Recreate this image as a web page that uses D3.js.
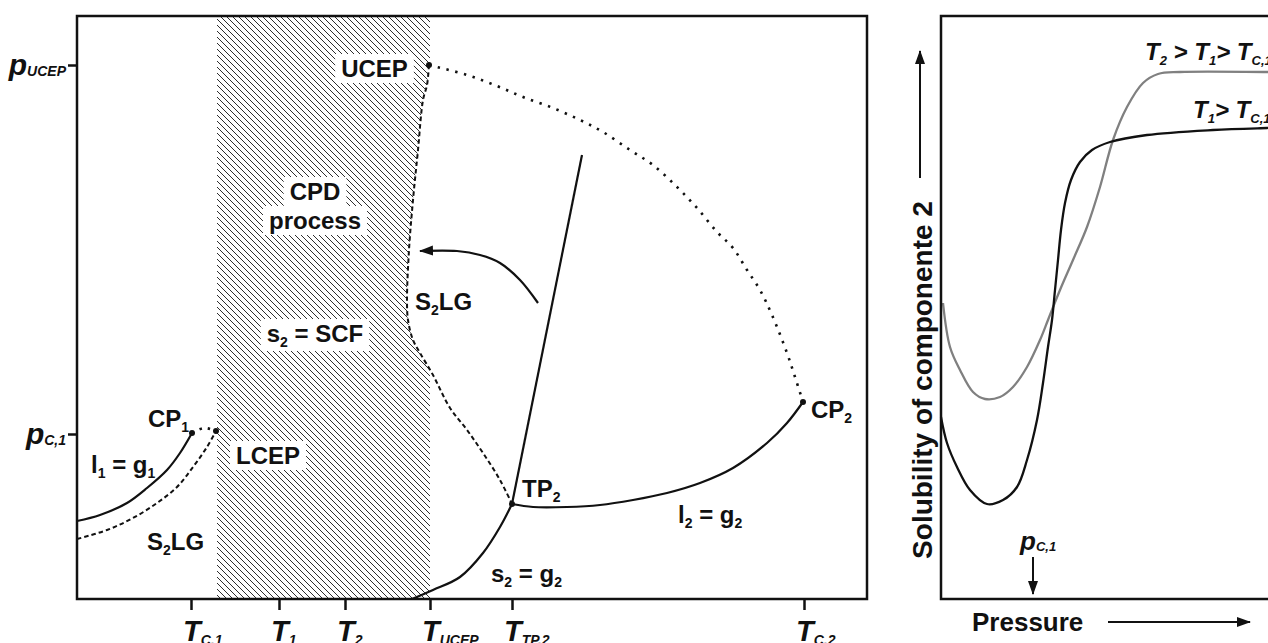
<!DOCTYPE html>
<html>
<head>
<meta charset="utf-8">
<script src="https://cdn.jsdelivr.net/npm/d3@7"></script>
<style>
  body { margin: 0; background: #fff; }
  text { font-family: "Liberation Sans", Arial, sans-serif; font-weight: bold; fill: #111; white-space: pre; }
</style>
</head>
<body>
<svg id="chart" width="1268" height="643"></svg>
<script>
// ---------- p–T projection (left panel) ----------
// temperature ticks (arbitrary temperature units)
const tTickMain = ["T", "T", "T", "T", "T", "T"];
const tTickSub = ["C,1", "1", "2", "UCEP", "TP,2", "C,2"];
const tTickValues = [11.4, 20.2, 26.8, 35.3, 43.5, 72.7];
// pressure ticks
const pTickMain = ["p", "p"];
const pTickSub = ["UCEP", "C,1"];
const pTickValues = [53.4, 16.5];

// hatched CPD band
const cpdBand = [14.0, 35.3];

// vapour pressure curve of component 1 (l1 = g1)
const vap1 = [[0, 7.8], [2.3, 8.4], [5.0, 9.6], [7.0, 11.1], [9.0, 12.9], [10.3, 14.6], [11.5, 16.6]];
// lower three-phase line S2LG
const s2lgLow = [[0, 6.0], [3.0, 6.9], [5.6, 8.1], [8.0, 9.6], [10.0, 11.2], [11.6, 13.2], [13.0, 15.2], [13.9, 16.8]];
// critical curve CP1 -> LCEP
const critLow = [[11.5, 16.6], [12.7, 17.1], [13.9, 16.8]];
// upper three-phase line S2LG, UCEP -> TP2
const s2lgHigh = [[35.2, 53.4], [35.0, 51.4], [34.6, 49.9], [34.1, 44.9], [33.6, 39.9], [33.2, 34.9], [33.0, 29.9],
  [33.1, 27.9], [33.6, 25.9], [34.3, 24.6], [35.6, 22.4], [37.3, 19.1], [39.0, 16.9], [40.6, 14.6], [42.3, 11.9], [43.5, 9.5]];
// critical curve UCEP -> CP2
const critHigh = [[35.2, 53.4], [39.0, 52.4], [42.0, 51.3], [44.6, 50.2], [47.6, 49.1], [50.3, 47.9], [52.6, 46.7],
  [55.3, 44.9], [57.6, 43.4], [60.0, 41.2], [62.0, 39.1], [64.0, 36.7], [65.6, 35.1], [67.0, 32.9], [68.3, 30.9],
  [69.5, 28.4], [71.0, 24.6], [71.8, 22.2], [72.6, 19.7]];
// melting line of component 2
const melt2 = [[43.5, 9.5], [50.5, 44.4]];
// sublimation curve of component 2 (s2 = g2)
const subl2 = [[33.5, 0], [35.6, 0.9], [38.3, 2.2], [40.6, 4.6], [42.3, 7.2], [43.5, 9.5]];
// vapour pressure curve of component 2 (l2 = g2)
const vap2 = [[43.5, 9.5], [45.6, 9.2], [49.0, 9.2], [52.3, 9.4], [55.6, 9.9], [59.0, 10.6], [62.3, 11.6],
  [65.6, 13.1], [69.0, 15.6], [71.0, 17.6], [72.6, 19.7]];
// process arrow
const procArrow = [[46.1, 29.6], [44.3, 31.9], [42.3, 33.6], [40.3, 34.4], [38.0, 34.8], [34.3, 34.8]];
// special points
const pointNames = ["CP1", "LCEP", "UCEP", "TP2", "CP2"];
const pointValues = [[11.5, 16.6], [13.9, 16.8], [35.2, 53.4], [43.5, 9.5], [72.6, 19.7]];

// region labels: [main, sub, rest, T, p, anchor, boxed]
const regionLabels = [
  ["UCEP", "", "", 29.75, 52.2, "middle", true],
  ["CPD", "", "", 23.8, 39.9, "middle", true],
  ["process", "", "", 23.8, 37.0, "middle", true],
  ["s", "2", " = SCF", 23.8, 25.7, "middle", true],
  ["LCEP", "", "", 19.1, 13.5, "middle", true],
  ["S", "2", "LG", 33.8, 28.9, "start", false],
  ["CP", "1", "", 7.1, 17.2, "start", false],
  ["l", "1", " = g", 1.4, 12.6, "start", false],
  ["S", "2", "LG", 7.0, 4.9, "start", false],
  ["TP", "2", "", 44.5, 10.2, "start", false],
  ["l", "2", " = g", 60.1, 7.6, "start", false],
  ["s", "2", " = g", 41.4, 1.7, "start", false],
  ["CP", "2", "", 73.4, 18.1, "start", false]
];
const regionTailSub = ["", "", "", "", "", "", "", "1", "", "", "2", "2", ""];

// ---------- solubility vs pressure (right panel) ----------
const solT1 = [[0, 18.2], [0.6, 15.6], [1.6, 13.2], [2.9, 10.9], [4.6, 9.5], [6.2, 9.9], [7.6, 11.2], [8.6, 13.9],
  [9.6, 17.9], [10.2, 21.6], [10.7, 25.2], [11.1, 27.9], [11.4, 30.9], [11.7, 33.9], [12.0, 36.9], [12.4, 39.6],
  [13.0, 41.9], [13.9, 43.7], [15.1, 44.9], [16.9, 45.7], [20.6, 46.4], [27.2, 46.9], [32.6, 47.1], [34.4, 47.15]];
const solT2 = [[0.2, 29.6], [0.9, 25.2], [1.9, 22.9], [3.2, 20.7], [4.4, 20.0], [5.9, 20.2], [7.2, 21.2], [8.6, 23.2],
  [9.9, 25.9], [10.7, 27.9], [11.9, 30.9], [13.2, 33.9], [14.6, 37.2], [15.9, 41.2], [17.2, 45.9], [18.6, 49.2],
  [20.2, 51.6], [21.7, 52.5], [23.9, 52.7], [32.6, 52.7], [34.4, 52.7]];
const pc1Pressure = 9.2;

// ---------- drawing ----------
const svg = d3.select("#chart");
const defs = svg.append("defs");

defs.append("pattern").attr("id", "hatch").attr("patternUnits", "userSpaceOnUse")
  .attr("width", 6).attr("height", 6)
  .append("path").attr("d", "M-1,-1L7,7M-1,5L1,7M5,-1L7,1")
  .attr("stroke", "#2e2e2e").attr("stroke-width", 1.1).attr("shape-rendering", "crispEdges");

defs.append("marker").attr("id", "head").attr("markerUnits", "userSpaceOnUse")
  .attr("markerWidth", 16).attr("markerHeight", 12).attr("refX", 13).attr("refY", 5)
  .attr("orient", "auto")
  .append("path").attr("d", "M0,0L14,5L0,10Z").attr("fill", "#111");

const xT = d3.scaleLinear().domain([0, 79]).range([77, 867]);
const yP = d3.scaleLinear().domain([0, 58.3]).range([599, 16]);
const line = d3.line().x(d => xT(d[0])).y(d => yP(d[1])).curve(d3.curveCatmullRom.alpha(0.5));

const left = svg.append("g");

// hatched band, bounded on the right by the upper S2LG line
const [tb0, tb1] = cpdBand;
const pTop = yP.domain()[1];
const clipD = "M" + xT(tb0) + "," + yP(pTop) + "L" + xT(tb1) + "," + yP(pTop) + "L" + xT(tb1) + "," + yP(s2lgHigh[0][1]) +
  "L" + line(s2lgHigh).slice(1) +
  "L" + xT(s2lgHigh[s2lgHigh.length - 1][0]) + "," + yP(0) + "L" + xT(tb0) + "," + yP(0) + "Z";
defs.append("clipPath").attr("id", "bandClip").append("path").attr("d", clipD);
left.append("rect")
  .attr("x", xT(tb0)).attr("y", yP(pTop)).attr("width", xT(tb1) - xT(tb0)).attr("height", yP(0) - yP(pTop))
  .attr("fill", "url(#hatch)").attr("clip-path", "url(#bandClip)");

// curves
const solid = { stroke: "#111", "stroke-width": 2.2, fill: "none" };
function drawCurve(g, data, gen, style, dash, cap) {
  const p = g.append("path").attr("d", gen(data));
  Object.entries(style).forEach(([k, v]) => p.attr(k, v));
  if (dash) p.attr("stroke-dasharray", dash);
  if (cap) p.attr("stroke-linecap", cap);
  return p;
}
drawCurve(left, vap1, line, solid);
drawCurve(left, s2lgLow, line, { ...solid, "stroke-width": 2 }, "4.5,3");
drawCurve(left, critLow, line, { ...solid, "stroke-width": 2.6 }, "2.4,6");
drawCurve(left, s2lgHigh, line, { ...solid, "stroke-width": 2 }, "4.5,3");
drawCurve(left, critHigh, line, { ...solid, "stroke-width": 2.6 }, "2.4,6.6");
drawCurve(left, melt2, line, solid);
drawCurve(left, subl2, line, solid);
drawCurve(left, vap2, line, solid);
drawCurve(left, procArrow, line, solid).attr("marker-end", "url(#head)");

left.selectAll("circle.pt").data(pointValues).join("circle")
  .attr("class", "pt").attr("cx", d => xT(d[0])).attr("cy", d => yP(d[1])).attr("r", 3).attr("fill", "#111");

// region labels (white boxes behind labels sitting on the hatching)
const labelG = left.append("g");
regionLabels.forEach((L, i) => {
  const [main, sub, rest, t, p, anchor, boxed] = L;
  const g = labelG.append("g");
  const tx = g.append("text").attr("x", xT(t)).attr("y", yP(p)).attr("text-anchor", anchor).attr("font-size", 24);
  tx.append("tspan").text(main);
  if (sub) tx.append("tspan").attr("font-size", 14).attr("dy", 5).text(sub);
  if (rest) tx.append("tspan").attr("dy", sub ? -5 : 0).text(rest);
  if (regionTailSub[i]) tx.append("tspan").attr("font-size", 14).attr("dy", 5).text(regionTailSub[i]);
  if (boxed) {
    const b = tx.node().getBBox();
    g.insert("rect", "text").attr("x", b.x - 6).attr("y", b.y - 1).attr("width", b.width + 12)
      .attr("height", b.height + 2).attr("fill", "#fff");
  }
});

// frame and axes
left.append("rect").attr("x", xT(0)).attr("y", yP(pTop)).attr("width", xT(79) - xT(0)).attr("height", yP(0) - yP(pTop))
  .attr("fill", "none").attr("stroke", "#111").attr("stroke-width", 2.5);

const xAxis = d3.axisBottom(xT).tickValues(tTickValues).tickSize(11).tickFormat("");
const xa = left.append("g").attr("transform", `translate(0,${yP(0)})`).call(xAxis);
xa.select(".domain").remove();
xa.selectAll(".tick line").attr("stroke", "#111").attr("stroke-width", 2.5);

const yAxis = d3.axisLeft(yP).tickValues(pTickValues).tickSize(9).tickFormat("");
const ya = left.append("g").attr("transform", `translate(${xT(0)},0)`).call(yAxis);
ya.select(".domain").remove();
ya.selectAll(".tick line").attr("stroke", "#111").attr("stroke-width", 2.5);

tTickValues.forEach((v, i) => {
  const tx = left.append("text").attr("x", xT(v) - 8).attr("y", 641).attr("font-size", 29).attr("font-style", "italic");
  tx.append("tspan").text(tTickMain[i]);
  tx.append("tspan").attr("font-size", 14).attr("dy", 4).text(tTickSub[i]);
});
pTickValues.forEach((v, i) => {
  const tx = left.append("text").attr("x", 66).attr("y", yP(v) + 10).attr("text-anchor", "end")
    .attr("font-size", 30).attr("font-style", "italic");
  tx.append("tspan").text(pTickMain[i]);
  tx.append("tspan").attr("font-size", 14).attr("dy", 1).text(pTickSub[i]);
});

// ---------- right panel ----------
const xS = d3.scaleLinear().domain([0, 34.4]).range([941, 1285]);
const yS = d3.scaleLinear().domain([0, 58.3]).range([599, 16]);
const sLine = d3.line().x(d => xS(d[0])).y(d => yS(d[1])).curve(d3.curveCatmullRom.alpha(0.5));
const right = svg.append("g");

drawCurve(right, solT2, sLine, { stroke: "#808080", "stroke-width": 2.3, fill: "none" });
drawCurve(right, solT1, sLine, { stroke: "#111", "stroke-width": 2.3, fill: "none" });

right.append("rect").attr("x", xS(0)).attr("y", yS(58.3)).attr("width", xS(34.4) - xS(0)).attr("height", yS(0) - yS(58.3))
  .attr("fill", "none").attr("stroke", "#111").attr("stroke-width", 2.5);

// curve labels
function tempLabel(x, y, parts) {
  const tx = right.append("text").attr("x", x).attr("y", y).attr("font-size", 24).attr("font-style", "italic");
  let down = false;
  parts.forEach(([s, isSub]) => {
    const ts = tx.append("tspan").text(s);
    if (isSub) { ts.attr("font-size", 13).attr("dy", 5); down = true; }
    else if (down) { ts.attr("dy", -5); down = false; }
  });
}
tempLabel(1145, 60, [["T", 0], ["2", 1], [" > T", 0], ["1", 1], ["> T", 0], ["C,1", 1]]);
tempLabel(1193, 118, [["T", 0], ["1", 1], ["> T", 0], ["C,1", 1]]);

// p_C,1 marker
const pcx = xS(pc1Pressure);
const pcl = right.append("text").attr("x", pcx - 13).attr("y", 550).attr("font-size", 26).attr("font-style", "italic");
pcl.append("tspan").text("p");
pcl.append("tspan").attr("font-size", 13).attr("dy", 1).text("C,1");
right.append("line").attr("x1", pcx).attr("x2", pcx).attr("y1", 557).attr("y2", 594)
  .attr("stroke", "#111").attr("stroke-width", 2).attr("marker-end", "url(#head)");

// axis titles with arrows
right.append("text").attr("x", 972).attr("y", 631).attr("font-size", 26).text("Pressure");
right.append("line").attr("x1", 1108).attr("x2", 1250).attr("y1", 622).attr("y2", 622)
  .attr("stroke", "#111").attr("stroke-width", 2).attr("marker-end", "url(#head)");
right.append("text").attr("transform", "translate(932,380) rotate(-90)").attr("text-anchor", "middle")
  .attr("font-size", 28).text("Solubility of componente 2");
right.append("line").attr("x1", 920).attr("x2", 920).attr("y1", 178).attr("y2", 51)
  .attr("stroke", "#111").attr("stroke-width", 2).attr("marker-end", "url(#head)");
</script>
</body>
</html>
